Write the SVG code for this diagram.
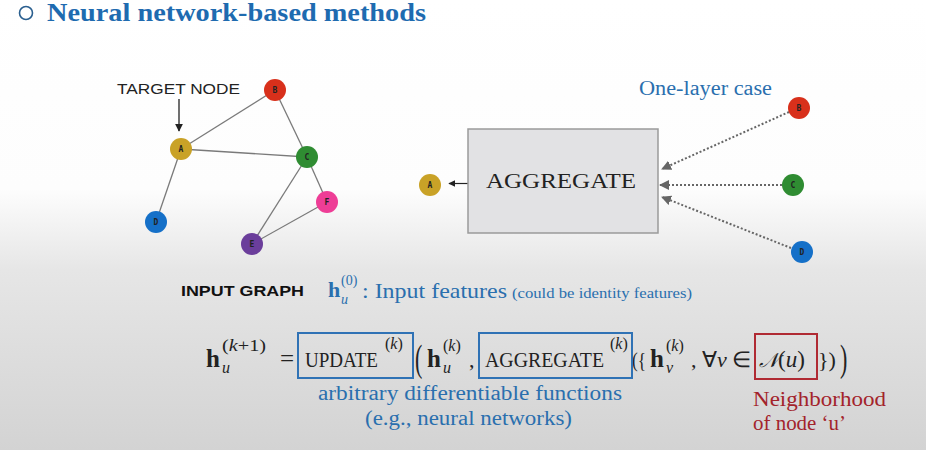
<svg xmlns="http://www.w3.org/2000/svg" width="926" height="450" viewBox="0 0 926 450">
<defs>
<linearGradient id="bg" x1="0" y1="0" x2="0" y2="1">
<stop offset="0" stop-color="#ffffff"/>
<stop offset="0.42" stop-color="#fdfdfd"/>
<stop offset="0.6" stop-color="#e6e6e6"/>
<stop offset="1" stop-color="#d3d3d3"/>
</linearGradient>
<marker id="gray" viewBox="0 0 10 10" refX="9" refY="5" markerWidth="5" markerHeight="5" orient="auto" markerUnits="strokeWidth">
<path d="M0,0 L10,5 L0,10 z" fill="#666"/>
</marker>
<marker id="blk" viewBox="0 0 10 10" refX="9" refY="5" markerWidth="6" markerHeight="6" orient="auto" markerUnits="strokeWidth">
<path d="M0,0 L10,5 L0,10 z" fill="#222"/>
</marker>
</defs>
<style>
.edge{stroke:#7a7a7a;stroke-width:1.3;fill:none}
.dot{stroke:#666;stroke-width:2;stroke-dasharray:2 2;fill:none}
.lbl{font-family:"DejaVu Sans Mono","Liberation Mono",monospace;font-weight:bold;font-size:8px;fill:#222;text-anchor:middle}
.blue{fill:#2a6fae;font-family:"Liberation Serif",serif}
.red{fill:#a3232b;font-family:"Liberation Serif",serif}
.m{font-family:"Liberation Serif",serif;fill:#222}
.hb{font-family:"Liberation Serif",serif;font-weight:bold;fill:#222;font-size:25px}
.sup{font-family:"Liberation Serif",serif;fill:#222;font-size:16px}
.box{fill:none;stroke-width:2}
</style>
<rect x="0" y="0" width="926" height="450" fill="url(#bg)"/>

<g id="title">
<circle cx="26" cy="13" r="6.5" fill="none" stroke="#2a5f8f" stroke-width="1.6"/>
<text x="47" y="21" font-family="Liberation Serif,serif" font-weight="bold" font-size="25" fill="#1e6bb0" textLength="379" lengthAdjust="spacingAndGlyphs">Neural network-based methods</text>
</g>

<g id="connectors">
<line class="edge" x1="181" y1="149" x2="275" y2="90"/>
<line class="edge" x1="181" y1="149" x2="307" y2="157"/>
<line class="edge" x1="181" y1="149" x2="156" y2="222"/>
<line class="edge" x1="275" y1="90" x2="307" y2="157"/>
<line class="edge" x1="307" y1="157" x2="252" y2="244"/>
<line class="edge" x1="307" y1="157" x2="327" y2="202"/>
<line class="edge" x1="327" y1="202" x2="252" y2="244"/>
<line x1="179" y1="99" x2="179" y2="131" stroke="#222" stroke-width="1.3" marker-end="url(#blk)"/>
<line x1="468" y1="183.5" x2="449" y2="183.5" stroke="#222" stroke-width="1.2" marker-end="url(#blk)"/>
<line class="dot" x1="789" y1="112" x2="662" y2="169" marker-end="url(#gray)"/>
<line class="dot" x1="782" y1="185" x2="660" y2="185" marker-end="url(#gray)"/>
<line class="dot" x1="791" y1="248" x2="662" y2="197" marker-end="url(#gray)"/>
</g>

<g id="target-label"><text x="117" y="94" font-family="Liberation Sans,sans-serif" font-size="15" fill="#222" textLength="123" lengthAdjust="spacingAndGlyphs">TARGET NODE</text></g>

<g id="node-A"><circle cx="181" cy="149" r="11" fill="#c9a227"/><text class="lbl" x="181" y="152">A</text></g>
<g id="node-B"><circle cx="275" cy="90" r="11" fill="#d8301b"/><text class="lbl" x="275" y="93">B</text></g>
<g id="node-C"><circle cx="307" cy="157" r="11" fill="#2f8c32"/><text class="lbl" x="307" y="160">C</text></g>
<g id="node-D"><circle cx="156" cy="222" r="11" fill="#1570c8"/><text class="lbl" x="156" y="225">D</text></g>
<g id="node-E"><circle cx="252" cy="244" r="11" fill="#6b3e9b"/><text class="lbl" x="252" y="247">E</text></g>
<g id="node-F"><circle cx="327" cy="202" r="11" fill="#ee3d96"/><text class="lbl" x="327" y="205">F</text></g>

<g id="one-layer-label"><text class="blue" x="639" y="95" font-size="20" textLength="133" lengthAdjust="spacingAndGlyphs">One-layer case</text></g>

<g id="aggregate-box">
<rect x="468" y="129" width="190" height="104" fill="#e2e2e4" stroke="#9a9a9a" stroke-width="1.5"/>
<text x="561" y="188" font-family="Liberation Serif,serif" font-size="21" fill="#222" text-anchor="middle" textLength="150" lengthAdjust="spacingAndGlyphs">AGGREGATE</text>
</g>
<g id="agg-A"><circle cx="430" cy="185" r="11" fill="#c9a227"/><text class="lbl" x="430" y="188">A</text></g>
<g id="agg-B"><circle cx="799" cy="108" r="11" fill="#d8301b"/><text class="lbl" x="799" y="111">B</text></g>
<g id="agg-C"><circle cx="793" cy="185" r="11" fill="#2f8c32"/><text class="lbl" x="793" y="188">C</text></g>
<g id="agg-D"><circle cx="802" cy="252" r="11" fill="#1570c8"/><text class="lbl" x="802" y="255">D</text></g>

<g id="input-graph-label"><text x="181" y="296" font-family="Liberation Sans,sans-serif" font-weight="bold" font-size="15" fill="#111" textLength="123" lengthAdjust="spacingAndGlyphs">INPUT GRAPH</text></g>

<g id="input-features">
<text x="328" y="297" font-family="Liberation Serif,serif" font-weight="bold" font-size="22" fill="#2a6fae">h</text>
<text x="341" y="304" font-family="Liberation Serif,serif" font-style="italic" font-size="14" fill="#2a6fae">u</text>
<text x="341" y="285" font-family="Liberation Serif,serif" font-size="14" fill="#2a6fae">(0)</text>
<text class="blue" x="362" y="298" font-size="22" textLength="145" lengthAdjust="spacingAndGlyphs">: Input features</text>
<text class="blue" x="512" y="298" font-size="14.5" textLength="180" lengthAdjust="spacingAndGlyphs">(could be identity features)</text>
</g>

<g id="formula">
<text class="hb" x="206" y="367">h</text>
<text class="sup" x="222" y="373" font-style="italic">u</text>
<text class="sup" x="222" y="351" textLength="44" lengthAdjust="spacingAndGlyphs">(<tspan font-style="italic">k</tspan>+1)</text>
<text class="m" x="280" y="367" font-size="25">=</text>
<text class="m" x="305" y="367" font-size="21" textLength="73" lengthAdjust="spacingAndGlyphs">UPDATE</text>
<text class="sup" x="385" y="349">(<tspan font-style="italic">k</tspan>)</text>
<text class="m" font-size="22" transform="translate(415,371) scale(1,1.75)">(</text>
<text class="hb" x="427" y="367">h</text>
<text class="sup" x="443" y="373" font-style="italic">u</text>
<text class="sup" x="443" y="351">(<tspan font-style="italic">k</tspan>)</text>
<text class="m" x="469" y="367" font-size="22">,</text>
<text class="m" x="485" y="367" font-size="21" textLength="119" lengthAdjust="spacingAndGlyphs">AGGREGATE</text>
<text class="sup" x="610" y="349">(<tspan font-style="italic">k</tspan>)</text>
<text class="m" x="632" y="367" font-size="22" textLength="14" lengthAdjust="spacingAndGlyphs">({</text>
<text class="hb" x="650" y="367">h</text>
<text class="sup" x="666" y="373" font-style="italic">v</text>
<text class="sup" x="666" y="351">(<tspan font-style="italic">k</tspan>)</text>
<text class="m" x="691" y="367" font-size="22">, ∀<tspan font-style="italic">v</tspan> ∈</text>
<text class="m" x="759" y="367" font-size="23"><tspan font-style="italic" font-family="DejaVu Serif,serif" font-size="20">𝒩</tspan>(<tspan font-style="italic">u</tspan>)</text>
<text class="m" x="818" y="367" font-size="22">})</text>
<text class="m" font-size="22" transform="translate(840,371) scale(1,1.75)">)</text>
<rect class="box" x="298" y="333" width="115" height="45" stroke="#2f72b5"/>
<rect class="box" x="479" y="333" width="153" height="45" stroke="#2f72b5"/>
<rect class="box" x="755" y="334" width="62" height="45" stroke="#b02a33"/>
</g>

<g id="notes">
<text class="blue" x="318" y="400" font-size="20" textLength="304" lengthAdjust="spacingAndGlyphs">arbitrary differentiable functions</text>
<text class="blue" x="365" y="425" font-size="20" textLength="207" lengthAdjust="spacingAndGlyphs">(e.g., neural networks)</text>
<text class="red" x="753" y="406" font-size="20" textLength="133" lengthAdjust="spacingAndGlyphs">Neighborhood</text>
<text class="red" x="753" y="430" font-size="20" textLength="93" lengthAdjust="spacingAndGlyphs">of node ‘u’</text>
</g>
</svg>
